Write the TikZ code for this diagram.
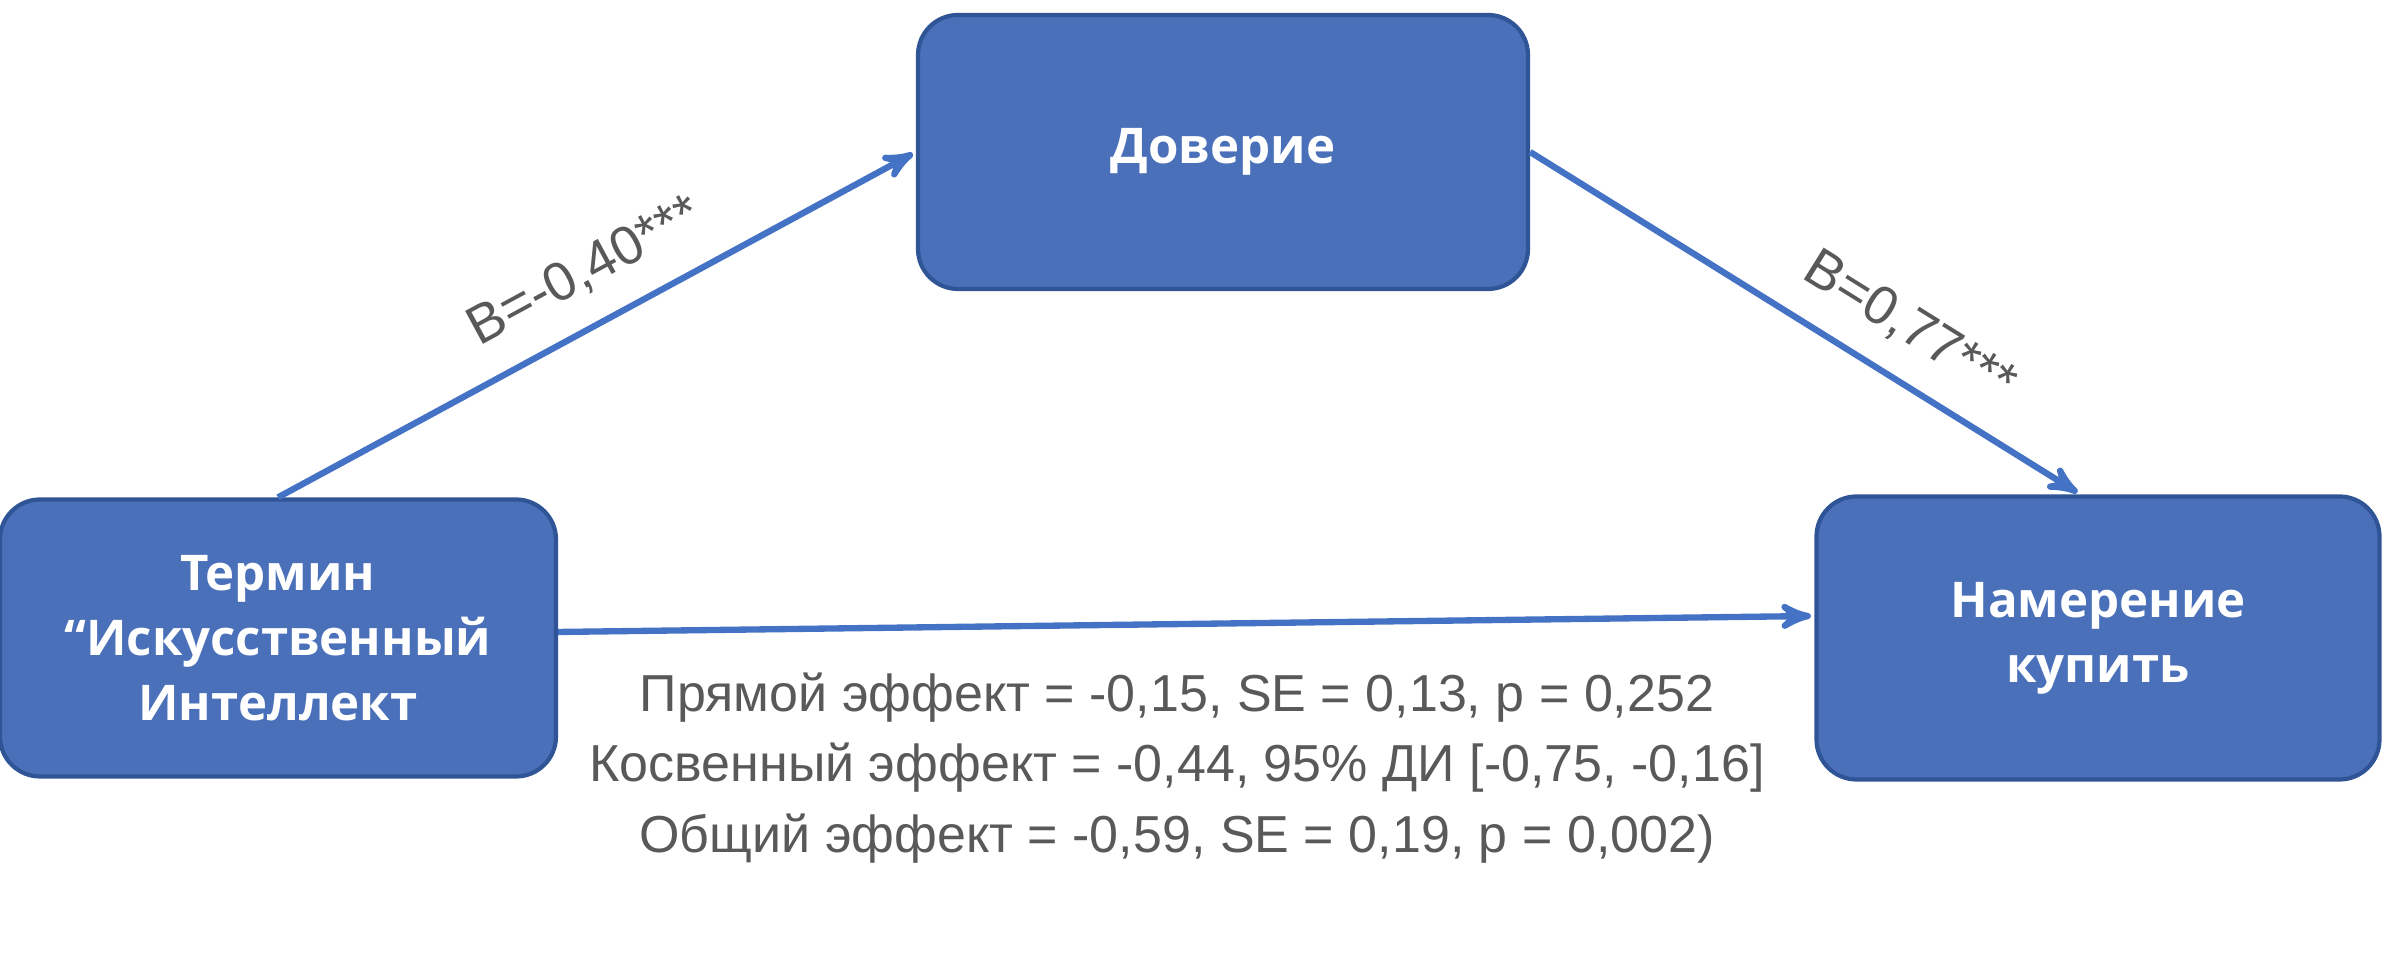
\documentclass[tikz,border=0pt]{standalone}
\usepackage{fontspec}
\setmainfont{Liberation Sans}
\newfontfamily\boxfont{Open Sans}
\usetikzlibrary{arrows, positioning}
\definecolor{boxblue}{HTML}{4A70BA}
\definecolor{boxline}{HTML}{2F5597}
\definecolor{arrowblue}{HTML}{4472C4}
\definecolor{labelgray}{HTML}{595959}

\begin{document}
\begin{tikzpicture}[->,>=stealth',shorten >=1pt,auto,node distance=18.2cm,
  main node/.style={rectangle,rounded corners=0.4cm,fill=boxblue,draw=boxline,line width=1.2pt,
    text=white,align=center,font=\boxfont\bfseries\fontsize{14}{18.5}\selectfont}]
  \useasboundingbox (0,0) rectangle (23.83,9.68);
  \node[main node, minimum width=5.56cm, minimum height=2.77cm] (ai) at (2.78,3.30) {Термин\\“Искусственный\\Интеллект};
  \node[main node, minimum width=5.63cm, minimum height=2.83cm] (buy) [right of=ai] {Намерение\\купить};
  \node[main node, minimum width=6.10cm, minimum height=2.74cm] (trust) at (12.23,8.16) {Доверие};
  \node[text=labelgray, align=center, font=\fontsize{14.8}{20}\selectfont] (effects) at (11.77,2.00)
    {Прямой эффект = -0,15, SE = 0,13, p = 0,252\\
     Косвенный эффект = -0,44, 95\% ДИ [-0,75, -0,16]\\
     Общий эффект = -0,59, SE = 0,19, p = 0,002)};
  \path[color=arrowblue, line width=1.8pt, every node/.style={text=labelgray,font=\fontsize{15.5}{17}\selectfont,sloped}]
    (ai.north) edge node[above=1.5mm, pos=0.52] {B=-0,40***} (trust.west)
    (trust.east) edge node[above=1.5mm, pos=0.64] {B=0,77***} (buy.97)
    ([yshift=0.6mm]ai.east) edge ([yshift=2.2mm]buy.west);
\end{tikzpicture}
\end{document}
